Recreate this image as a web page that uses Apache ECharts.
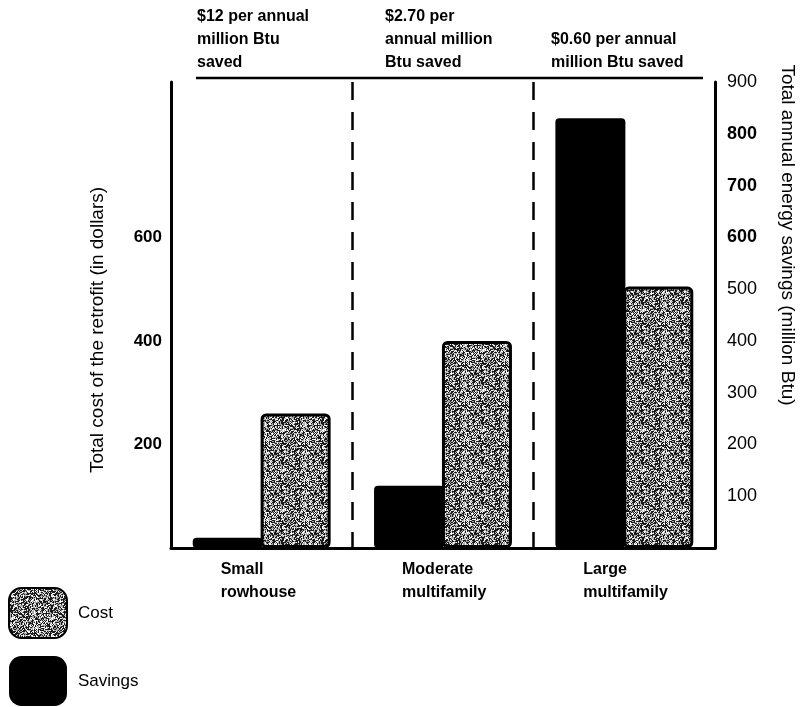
<!DOCTYPE html>
<html><head><meta charset="utf-8">
<script src="https://cdn.jsdelivr.net/npm/echarts/dist/echarts.min.js"></script>
<style>html,body{margin:0;padding:0;background:#fff}#c{width:805px;height:707px}</style>
</head><body><div id="c"></div>
<script>
// ---- data ----
const categories = ['Small\nrowhouse', 'Moderate\nmultifamily', 'Large\nmultifamily'];
const savings = [20, 120, 830];      // million Btu (right axis)
const cost = [260, 400, 505];        // dollars (left axis)
const costNotes = ['$12 per annual\nmillion Btu\nsaved', '$2.70 per\nannual million\nBtu saved', '$0.60 per annual\nmillion Btu saved'];
const leftTickLabels = [200, 400, 600];
const rightTickLabels = [100, 200, 300, 400, 500, 600, 700, 800, 900];
const seriesNames = ['Savings', 'Cost'];

const FONT = 'Liberation Sans, Arial, sans-serif';

function makeTexture() {
  const n = 40;
  const c = document.createElement('canvas');
  c.width = n; c.height = n;
  const ctx = c.getContext('2d');
  ctx.fillStyle = '#1a1a1a';
  ctx.fillRect(0, 0, n, n);
  for (let y = 0; y < n; y++) {
    for (let x = 0; x < n; x++) {
      const h = Math.abs(Math.sin(x * 12.9898 + y * 78.233) * 43758.5453) % 1;
      if (h > 0.45) {
        const g = h > 0.75 ? 250 : 170;
        ctx.fillStyle = 'rgb(' + g + ',' + g + ',' + g + ')';
        ctx.fillRect(x, y, 1, 1);
      }
    }
  }
  return c;
}
const texture = makeTexture();

const chart = echarts.init(document.getElementById('c'), null, {renderer: 'canvas'});

const noteX = [197, 385, 551];
const graphics = costNotes.map((t, i) => ({
  type: 'text', left: noteX[i], top: i === 2 ? 28 : 5,
  style: {text: t, font: 'bold 16px ' + FONT, fill: '#000', lineHeight: 23}
}));
graphics.push({type: 'line', shape: {x1: 196, y1: 78, x2: 703, y2: 78}, style: {stroke: '#000', lineWidth: 2.5}});

chart.setOption({
  animation: false,
  backgroundColor: '#fff',
  textStyle: {fontFamily: FONT},
  grid: {left: 171, right: 84, top: 82, bottom: 159},
  legend: {
    orient: 'vertical', left: 8, top: 587, padding: 0, itemWidth: 58, itemHeight: 50, itemGap: 17,
    data: ['Cost', 'Savings'], icon: 'roundRect',
    textStyle: {fontSize: 17, color: '#000', fontFamily: FONT, padding: [0, 0, 0, 6]}
  },
  xAxis: {
    type: 'category', data: categories,
    axisLine: {lineStyle: {color: '#000', width: 3}},
    axisTick: {show: false},
    splitLine: {show: true, lineStyle: {color: '#000', width: 2.5, type: [18, 12]}},
    axisLabel: {
      margin: 10, color: '#000', fontSize: 16, fontWeight: 'bold', lineHeight: 23,
      formatter: v => v.split('\n').map(s => '{a|' + s + '}').join('\n'),
      rich: {a: {width: 82, align: 'left', fontSize: 16, fontWeight: 'bold', lineHeight: 23, fontFamily: FONT}}
    }
  },
  yAxis: [
    {
      type: 'value', position: 'left', min: 0, max: 900, interval: 100,
      name: 'Total cost of the retrofit (in dollars)', nameLocation: 'middle', nameRotate: 90, nameGap: 64,
      nameTextStyle: {fontSize: 19, color: '#000', padding: [0, 30, 0, 0]},
      axisLine: {show: true, lineStyle: {color: '#000', width: 3}},
      axisTick: {show: false}, splitLine: {show: false},
      axisLabel: {
        margin: 9, color: '#000', fontSize: 17, fontWeight: 'bold',
        formatter: v => leftTickLabels.indexOf(v) >= 0 ? String(v) : ''
      }
    },
    {
      type: 'value', position: 'right', min: 0, max: 900, interval: 100,
      name: 'Total annual energy savings (million Btu)', nameLocation: 'middle', nameRotate: -90, nameGap: 63,
      nameTextStyle: {fontSize: 19, color: '#000', padding: [0, 160, 0, 0]},
      axisLine: {show: true, lineStyle: {color: '#000', width: 3}},
      axisTick: {show: false}, splitLine: {show: false},
      axisLabel: {
        margin: 12, color: '#000', fontSize: 18,
        formatter: v => rightTickLabels.indexOf(v) < 0 ? '' : ((v >= 600 && v <= 800) ? '{b|' + v + '}' : String(v)),
        rich: {b: {fontSize: 18, fontWeight: 'bold', fontFamily: 'Liberation Sans Narrow, ' + FONT, color: '#000'}}
      }
    }
  ],
  series: [
    {
      name: seriesNames[0], type: 'bar', yAxisIndex: 1, data: savings,
      barWidth: 70, barGap: '-3%',
      itemStyle: {color: '#000', borderRadius: 4}
    },
    {
      name: seriesNames[1], type: 'bar', yAxisIndex: 0, data: cost,
      barWidth: 70,
      itemStyle: {color: {image: texture, repeat: 'repeat'}, borderColor: '#000', borderWidth: 3, borderRadius: 4}
    }
  ],
  graphic: graphics
});
</script>
</body></html>
